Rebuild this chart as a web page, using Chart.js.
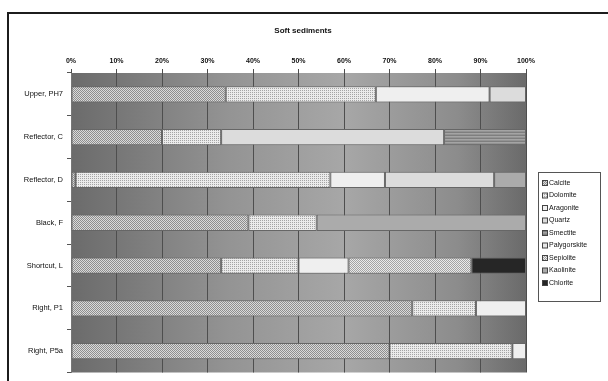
<!DOCTYPE html>
<html>
<head>
<meta charset="utf-8">
<script src="https://cdn.jsdelivr.net/npm/chart.js@4/dist/chart.umd.min.js"></script>
<style>
  html, body { margin: 0; padding: 0; background: #fff; }
  canvas { display: block; }
</style>
</head>
<body>
<canvas id="chart" width="608" height="381"></canvas>
<script>
// mineral composition (%) per site
const sites = ["Upper, PH7", "Reflector, C", "Reflector, D", "Black, F", "Shortcut, L", "Right, P1", "Right, P5a"]
const minerals = ["Calcite", "Dolomite", "Aragonite", "Quartz", "Smectite", "Palygorskite", "Sepiolite", "Kaolinite", "Chlorite"]

const calcite      = [34, 20, 1, 39, 33, 75, 70]
const dolomite     = [33, 13, 56, 15, 17, 14, 27]
const aragonite    = [25, 0, 12, 0, 11, 11, 3]
const quartz       = [8, 49, 24, 0, 0, 0, 0]
const smectite     = [0, 18, 0, 0, 0, 0, 0]
const palygorskite = [0, 0, 0, 0, 0, 0, 0]
const sepiolite    = [0, 0, 0, 0, 27, 0, 0]
const kaolinite    = [0, 0, 7, 46, 0, 0, 0]
const chlorite     = [0, 0, 0, 0, 12, 0, 0]

const xTicks = [0, 10, 20, 30, 40, 50, 60, 70, 80, 90, 100]

const ctx = document.getElementById("chart").getContext("2d")

// tiny pixel tiles to fake the Excel fill patterns
function pattern(rows) {
  const c = document.createElement("canvas")
  c.width = rows[0].length
  c.height = rows.length
  const g = c.getContext("2d")
  rows.forEach((row, y) => row.forEach((col, x) => {
    g.fillStyle = col
    g.fillRect(x, y, 1, 1)
  }))
  return ctx.createPattern(c, "repeat")
}

const D = "#8e8e8e", L = "#dadada", M = "#a4a4a4", W = "#ebebeb"
const fills = [
  pattern([[D, L], [L, D]]),                                   // Calcite
  pattern([[M, W], [W, W]]),                                   // Dolomite
  "#efefef",                                                   // Aragonite
  "#dcdcdc",                                                   // Quartz
  pattern([["#7e7e7e"], ["#a4a4a4"], ["#939393"]]),            // Smectite
  "#e8e8e8",                                                   // Palygorskite
  pattern([[M, W], [W, M]]),                                   // Sepiolite
  "#ababab",                                                   // Kaolinite
  "#262626"                                                    // Chlorite
]

const series = [calcite, dolomite, aragonite, quartz, smectite, palygorskite, sepiolite, kaolinite, chlorite]

const datasets = series.map((values, i) => ({
  label: minerals[i],
  data: values.map((v) => (v === 0 ? null : v)),
  backgroundColor: fills[i],
  borderColor: "#666",
  borderWidth: 1,
  borderSkipped: false,
  barPercentage: 0.38,
  categoryPercentage: 1
}))

const chrome = {
  id: "chrome",
  beforeDraw(chart) {
    const { ctx, chartArea: a } = chart
    ctx.save()
    const grad = ctx.createLinearGradient(a.left, 0, a.right, 0)
    grad.addColorStop(0, "#6b6b6b")
    grad.addColorStop(0.35, "#949494")
    grad.addColorStop(0.6, "#a7a7a7")
    grad.addColorStop(0.85, "#8c8c8c")
    grad.addColorStop(1, "#6a6a6a")
    ctx.fillStyle = grad
    ctx.fillRect(a.left, a.top, a.right - a.left, a.bottom - a.top)
    ctx.restore()
  },
  afterDraw(chart) {
    const { ctx } = chart
    ctx.save()
    // outer chart frame (cut off by the scan on the right and bottom)
    ctx.strokeStyle = "#1c1c1c"
    ctx.lineWidth = 2
    ctx.strokeRect(8, 13, 700, 500)

    ctx.fillStyle = "#111"
    ctx.font = "bold 8px 'Liberation Sans', Arial, sans-serif"
    ctx.textAlign = "center"
    ctx.textBaseline = "middle"
    ctx.fillText("Soft sediments", 303, 31)

    // legend box
    const lx = 538, ly = 172
    ctx.lineWidth = 1
    ctx.strokeStyle = "#555"
    ctx.strokeRect(lx + 0.5, ly + 0.5, 62, 129)
    ctx.font = "7px 'Liberation Sans', Arial, sans-serif"
    ctx.textAlign = "left"
    chart.data.datasets.forEach((ds, i) => {
      const y = ly + 11 + i * 12.5
      ctx.fillStyle = ds.backgroundColor
      ctx.fillRect(lx + 4, y - 2.5, 5, 5)
      ctx.strokeStyle = "#444"
      ctx.strokeRect(lx + 4.5, y - 2.5, 5, 5)
      ctx.fillStyle = "#111"
      ctx.fillText(ds.label, lx + 11, y)
    })
    ctx.restore()
  }
}

new Chart(ctx, {
  type: "bar",
  data: { labels: sites, datasets },
  options: {
    indexAxis: "y",
    responsive: false,
    animation: false,
    layout: { padding: { top: 50, left: 0, right: 82, bottom: 3 } },
    plugins: {
      legend: { display: false },
      title: { display: false },
      tooltip: { enabled: false }
    },
    scales: {
      x: {
        type: "linear",
        position: "top",
        stacked: true,
        min: 0,
        max: 100,
        afterFit: (s) => { s.height = 23 },
        afterBuildTicks: (s) => { s.ticks = xTicks.map((v) => ({ value: v })) },
        grid: { color: "#4e4e4e", lineWidth: 1, tickLength: 4 },
        border: { display: false },
        ticks: {
          padding: 4,
          color: "#111",
          font: { family: "'Liberation Sans', Arial, sans-serif", size: 7, weight: "bold" },
          callback: (v) => v + "%"
        }
      },
      y: {
        stacked: true,
        afterFit: (s) => { s.width = 71 },
        grid: { drawOnChartArea: false, color: "#555", tickLength: 4, offset: true },
        border: { color: "#777" },
        ticks: {
          padding: 4,
          color: "#111",
          font: { family: "'Liberation Sans', Arial, sans-serif", size: 7.5 }
        }
      }
    }
  },
  plugins: [chrome]
})
</script>
</body>
</html>
